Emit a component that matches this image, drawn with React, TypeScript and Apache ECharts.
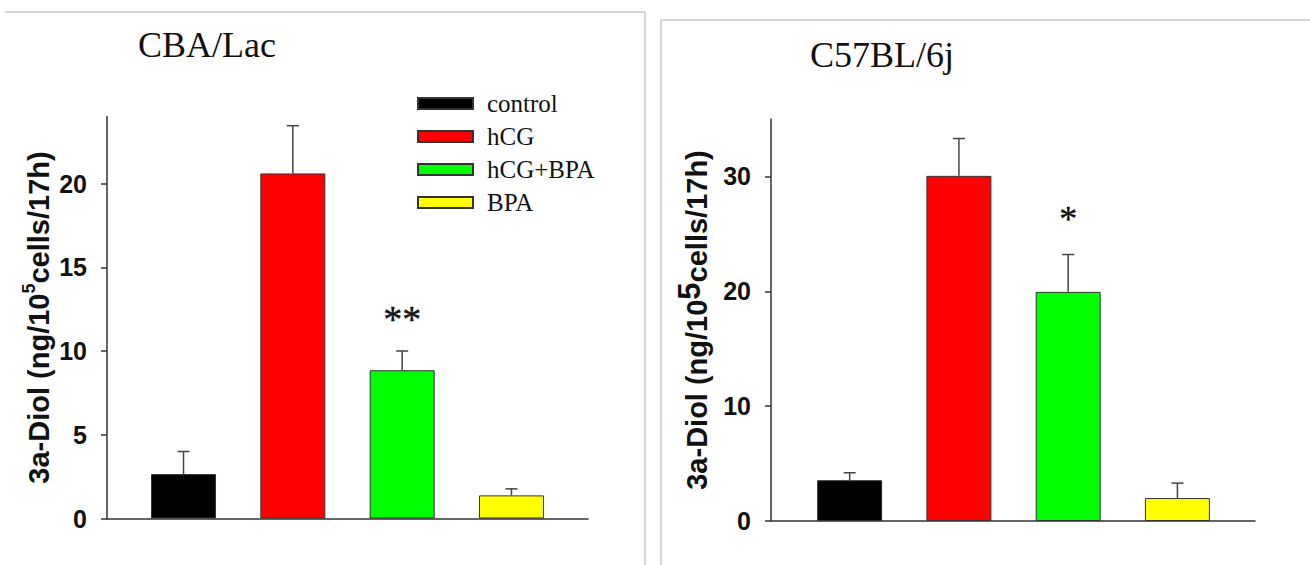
import React, { useEffect, useRef } from "react";
import * as echarts from "echarts";

const categories = ["control", "hCG", "hCG+BPA", "BPA"];
const barColors = ["#000000", "#ff0000", "#00ff00", "#ffff00"];

const cbaMeans = [2.65, 20.6, 8.85, 1.38];
const cbaErrTops = [4.0, 23.45, 10.0, 1.77];
const c57Means = [3.55, 30.05, 19.95, 2.0];
const c57ErrTops = [4.2, 33.3, 23.2, 3.3];

const cbaTicks = [0, 5, 10, 15, 20];
const c57Ticks = [0, 10, 20, 30];

const panelTitles = ["CBA/Lac", "C57BL/6j"];
const cbaMarks = [[2, 11.9, "**"]];
const c57Marks = [[2, 26.3, "*"]];

const AXIS = "#333";

function yName(big: boolean) {
  return {
    name: "{a|3a-Diol (ng/10}{s|5}{a|cells/17h)}",
    nameLocation: "middle" as const,
    nameTextStyle: {
      rich: {
        a: {
          fontFamily: "Liberation Sans",
          fontWeight: "bold",
          fontSize: 29,
          color: "#111",
          lineHeight: 29,
          verticalAlign: "bottom",
        },
        s: {
          fontFamily: "Liberation Sans",
          fontWeight: "bold",
          fontSize: big ? 31 : 18,
          color: "#111",
          lineHeight: big ? 37 : 33,
          verticalAlign: "top",
        },
      },
    },
  };
}

function yAxis(grid: number, max: number, ticks: number[], gap: number, big: boolean) {
  return {
    type: "value",
    gridIndex: grid,
    min: 0,
    max,
    ...yName(big),
    nameGap: gap,
    axisLine: { show: true, onZero: false, lineStyle: { color: AXIS, width: 1.5 } },
    axisTick: { show: true, length: 6, customValues: ticks, lineStyle: { color: AXIS, width: 1.5 } },
    axisLabel: {
      customValues: ticks,
      margin: 20,
      fontFamily: "Liberation Sans",
      fontWeight: "bold",
      fontSize: 25,
      color: "#111",
    },
    splitLine: { show: false },
  };
}

function xAxis(grid: number, min: number, max: number) {
  return {
    type: "value",
    gridIndex: grid,
    min,
    max,
    axisLine: { show: true, onZero: false, lineStyle: { color: AXIS, width: 1.5 } },
    axisTick: { show: false },
    axisLabel: { show: false },
    splitLine: { show: false },
  };
}

function barSeries(grid: number, means: number[]) {
  return categories.map((name, i) => ({
    type: "bar",
    name,
    xAxisIndex: grid,
    yAxisIndex: grid,
    barWidth: 65,
    barGap: "-100%",
    data: [[i, means[i]]],
    itemStyle: { color: barColors[i], borderColor: "#333", borderWidth: 1 },
    z: 2,
  }));
}

function errSeries(grid: number, means: number[], tops: number[]) {
  return {
    type: "custom",
    name: "err" + grid,
    xAxisIndex: grid,
    yAxisIndex: grid,
    z: 3,
    data: means.map((m, i) => [i, m, tops[i]]),
    encode: { x: 0, y: [1, 2] },
    renderItem: (params: any, api: any) => {
      const x = api.value(0);
      const p0 = api.coord([x, api.value(1)]);
      const p1 = api.coord([x, api.value(2)]);
      const st = { stroke: "#444", lineWidth: 1.5 };
      return {
        type: "group",
        children: [
          { type: "line", shape: { x1: p0[0], y1: p0[1], x2: p1[0], y2: p1[1] }, style: st },
          { type: "line", shape: { x1: p1[0] - 6, y1: p1[1], x2: p1[0] + 6, y2: p1[1] }, style: st },
        ],
      };
    },
  };
}

function markSeries(grid: number, marks: any[], size: number) {
  return {
    type: "custom",
    name: "mark" + grid,
    xAxisIndex: grid,
    yAxisIndex: grid,
    z: 4,
    data: marks,
    encode: { x: 0, y: 1 },
    renderItem: (params: any, api: any) => {
      const p = api.coord([api.value(0), api.value(1)]);
      return {
        type: "text",
        x: p[0],
        y: p[1],
        style: {
          text: String(marks[params.dataIndex][2]),
          fontFamily: "Liberation Serif",
          fontSize: size,
          fill: "#111",
          stroke: "#111",
          lineWidth: 0.4,
          align: "center",
          verticalAlign: "middle",
        },
      };
    },
  };
}

export default function App() {
  const ref = useRef<HTMLDivElement>(null);
  useEffect(() => {
    if (!ref.current) return;
    const chart = echarts.init(ref.current, undefined, { renderer: "svg" });
    const titleStyle = { fontFamily: "Liberation Serif", fontSize: 36, fontWeight: "normal", color: "#111" };
    const border = { stroke: "#c8c8c8", lineWidth: 1.5 };
    chart.setOption({
      animation: false,
      backgroundColor: "#ffffff",
      title: [
        { text: panelTitles[0], left: 138, top: 27, padding: 0, textStyle: titleStyle },
        { text: panelTitles[1], left: 810, top: 37, padding: 0, textStyle: titleStyle },
      ],
      legend: {
        data: categories,
        orient: "vertical",
        left: 417,
        top: 91,
        padding: 0,
        itemWidth: 55,
        itemHeight: 11,
        itemGap: 8,
        icon: "rect",
        selectedMode: false,
        textStyle: {
          fontFamily: "Liberation Serif",
          fontSize: 25,
          lineHeight: 25,
          color: "#111",
          padding: [0, 0, 0, 9],
        },
      },
      graphic: [
        { type: "line", shape: { x1: 5, y1: 12, x2: 645, y2: 12 }, style: border },
        { type: "line", shape: { x1: 645, y1: 12, x2: 645, y2: 565 }, style: border },
        { type: "line", shape: { x1: 661, y1: 20, x2: 1310, y2: 20 }, style: border },
        { type: "line", shape: { x1: 661, y1: 20, x2: 661, y2: 565 }, style: border },
      ],
      grid: [
        { left: 107, top: 116.5, width: 481, height: 402 },
        { left: 771, top: 119, width: 484, height: 402 },
      ],
      xAxis: [xAxis(0, -0.7, 3.7), xAxis(1, -0.72, 3.71)],
      yAxis: [yAxis(0, 24, cbaTicks, 54, false), yAxis(1, 35, c57Ticks, 60, true)],
      series: [
        ...barSeries(0, cbaMeans),
        errSeries(0, cbaMeans, cbaErrTops),
        markSeries(0, cbaMarks, 38),
        ...barSeries(1, c57Means),
        errSeries(1, c57Means, c57ErrTops),
        markSeries(1, c57Marks, 36),
      ],
    });
    return () => chart.dispose();
  }, []);
  return (
    <div
      ref={ref}
      style={{ position: "absolute", left: 0, top: 0, width: 1310, height: 565, background: "#fff" }}
    />
  );
}
